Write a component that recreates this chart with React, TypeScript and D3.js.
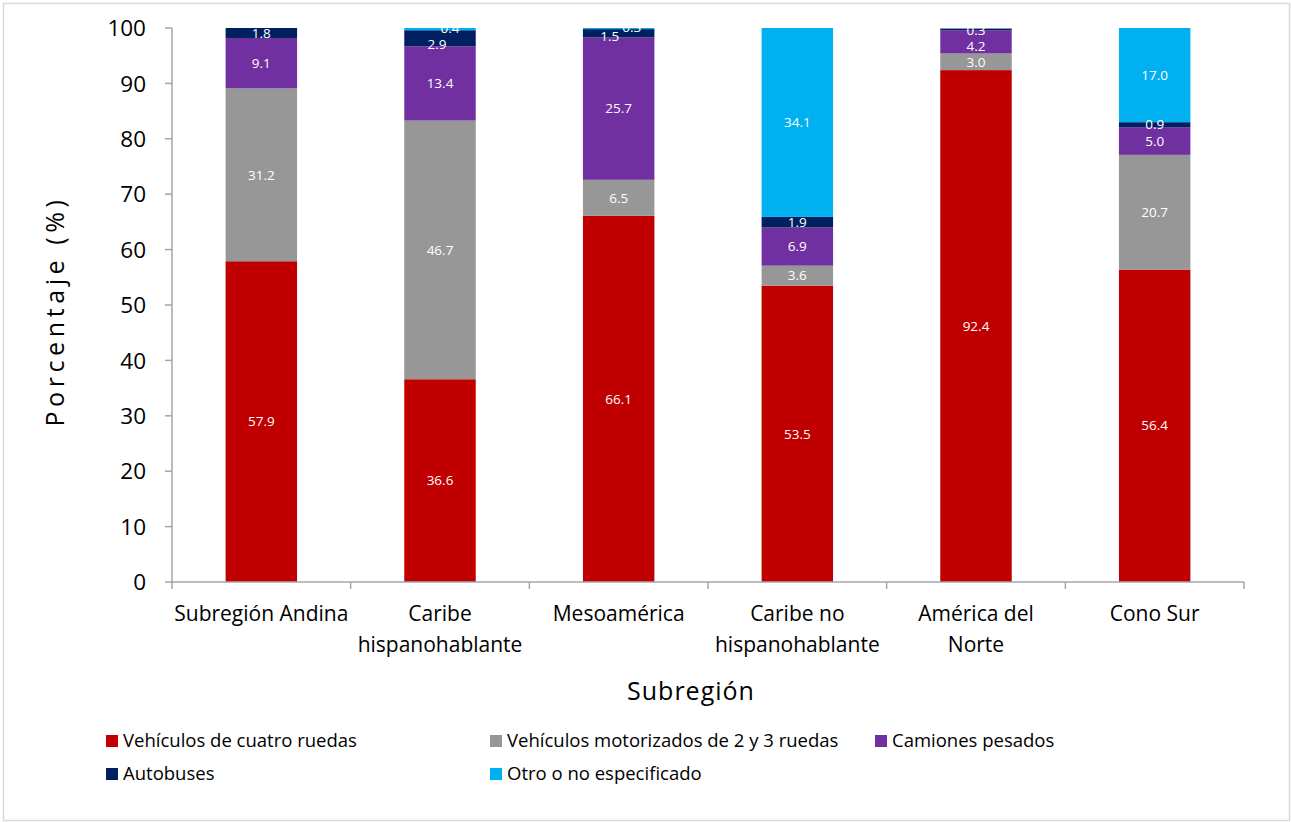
import React from "react";
import * as d3 from "d3";

const categories = [
  ["Subregión Andina"],
  ["Caribe", "hispanohablante"],
  ["Mesoamérica"],
  ["Caribe no", "hispanohablante"],
  ["América del", "Norte"],
  ["Cono Sur"],
];
const seriesNames = [
  "Vehículos de cuatro ruedas",
  "Vehículos motorizados de 2 y 3 ruedas",
  "Camiones pesados",
  "Autobuses",
  "Otro o no especificado",
];
const cuatroRuedas = [57.9, 36.6, 66.1, 53.5, 92.4, 56.4];
const dosTresRuedas = [31.2, 46.7, 6.5, 3.6, 3.0, 20.7];
const camiones = [9.1, 13.4, 25.7, 6.9, 4.2, 5.0];
const autobuses = [1.8, 2.9, 1.5, 1.9, 0.3, 0.9];
const otro = [0, 0.4, 0.3, 34.1, 0, 17.0];
const colors = ["#C00000", "#979797", "#7030A0", "#002060", "#00B0F0"];
const yTicks = [0, 10, 20, 30, 40, 50, 60, 70, 80, 90, 100];

const series = [cuatroRuedas, dosTresRuedas, camiones, autobuses, otro];

// label nudges (px) for crowded tiny segments, keyed "category-series"
const nudges: Record<string, [number, number]> = {
  "1-3": [-3, 6],
  "1-4": [10, -1],
  "2-3": [-9, 3],
  "2-4": [13, -1],
  "4-2": [0, 4],
  "4-3": [0, 1],
};

export default function App() {
  const W = 1291, H = 822;
  const left = 172, right = 1244, top = 28, bottom = 582;
  const x = d3.scaleBand<number>().domain(d3.range(categories.length)).range([left, right]).paddingInner(0.6).paddingOuter(0.3);
  const xOuter = d3.scaleBand<number>().domain(d3.range(categories.length)).range([left, right]);
  const y = d3.scaleLinear().domain([0, 100]).range([bottom, top]);
  const font = "'Open Sans', 'Noto Sans', sans-serif";
  const stack = categories.map((_, i) => {
    let acc = 0;
    return series.map((s) => {
      const y0 = acc;
      acc += s[i];
      return { y0, y1: Math.min(acc, 100), v: s[i] };
    });
  });
  const axisColor = "#a6a6a6";
  const legendItems = [
    { x: 106, y: 741, i: 0 },
    { x: 490, y: 741, i: 1 },
    { x: 875, y: 741, i: 2 },
    { x: 106, y: 774, i: 3 },
    { x: 490, y: 774, i: 4 },
  ];
  return (
    <svg width={W} height={H} style={{ position: "absolute", left: 0, top: 0 }} fontFamily={font}>
      <rect x={0} y={0} width={W} height={H} fill="#fff" />
      <rect x={3.5} y={3.5} width={1286} height={817} fill="none" stroke="#d9d9d9" strokeWidth={1.5} />
      {categories.map((_, i) =>
        stack[i].map((seg, k) =>
          seg.v > 0 ? (
            <rect key={`${i}-${k}`} x={x(i)} width={x.bandwidth()} y={y(seg.y1)} height={y(seg.y0) - y(seg.y1)} fill={colors[k]} />
          ) : null
        )
      )}
      {categories.map((_, i) =>
        stack[i].map((seg, k) => {
          if (!(seg.v > 0)) return null;
          const n = nudges[`${i}-${k}`] || [0, 0];
          return (
            <text key={`t${i}-${k}`} x={x(i)! + x.bandwidth() / 2 + n[0]} y={y((seg.y0 + seg.y1) / 2) + n[1]} dy="0.35em" textAnchor="middle" fill="#fff" fontSize={13.5}>
              {seg.v.toFixed(1)}
            </text>
          );
        })
      )}
      <line x1={left} x2={left} y1={top} y2={bottom} stroke={axisColor} strokeWidth={1.5} />
      <line x1={left} x2={right} y1={bottom} y2={bottom} stroke={axisColor} strokeWidth={1.5} />
      {yTicks.map((t) => (
        <g key={t}>
          <line x1={left - 7} x2={left} y1={y(t)} y2={y(t)} stroke={axisColor} strokeWidth={1.5} />
          <text x={146} y={y(t)} dy="0.36em" textAnchor="end" fontSize={22.5} fill="#000">{t}</text>
        </g>
      ))}
      {d3.range(categories.length + 1).map((i) => {
        const xx = i < categories.length ? xOuter(i)! : right;
        return <line key={i} x1={xx} x2={xx} y1={bottom} y2={bottom + 7} stroke={axisColor} strokeWidth={1.5} />;
      })}
      {categories.map((lines, i) => (
        <text key={i} x={xOuter(i)! + xOuter.bandwidth() / 2} y={614} textAnchor="middle" fontSize={21} fill="#000">
          {lines.map((l, j) => (
            <tspan key={j} x={xOuter(i)! + xOuter.bandwidth() / 2} dy={j === 0 ? "0.35em" : 31}>{l}</tspan>
          ))}
        </text>
      ))}
      <text x={691} y={691} dy="0.35em" textAnchor="middle" fontSize={25} letterSpacing={1} fill="#000">Subregión</text>
      <text transform={`translate(55,311) rotate(-90)`} dy="0.35em" textAnchor="middle" fontSize={25} letterSpacing={4.6} fill="#000">Porcentaje (%)</text>
      {legendItems.map((li) => (
        <g key={li.i}>
          <rect x={li.x} y={li.y - 6} width={12} height={12} fill={colors[li.i]} />
          <text x={li.x + 17} y={li.y} dy="0.35em" fontSize={18.5} fill="#000">{seriesNames[li.i]}</text>
        </g>
      ))}
    </svg>
  );
}
